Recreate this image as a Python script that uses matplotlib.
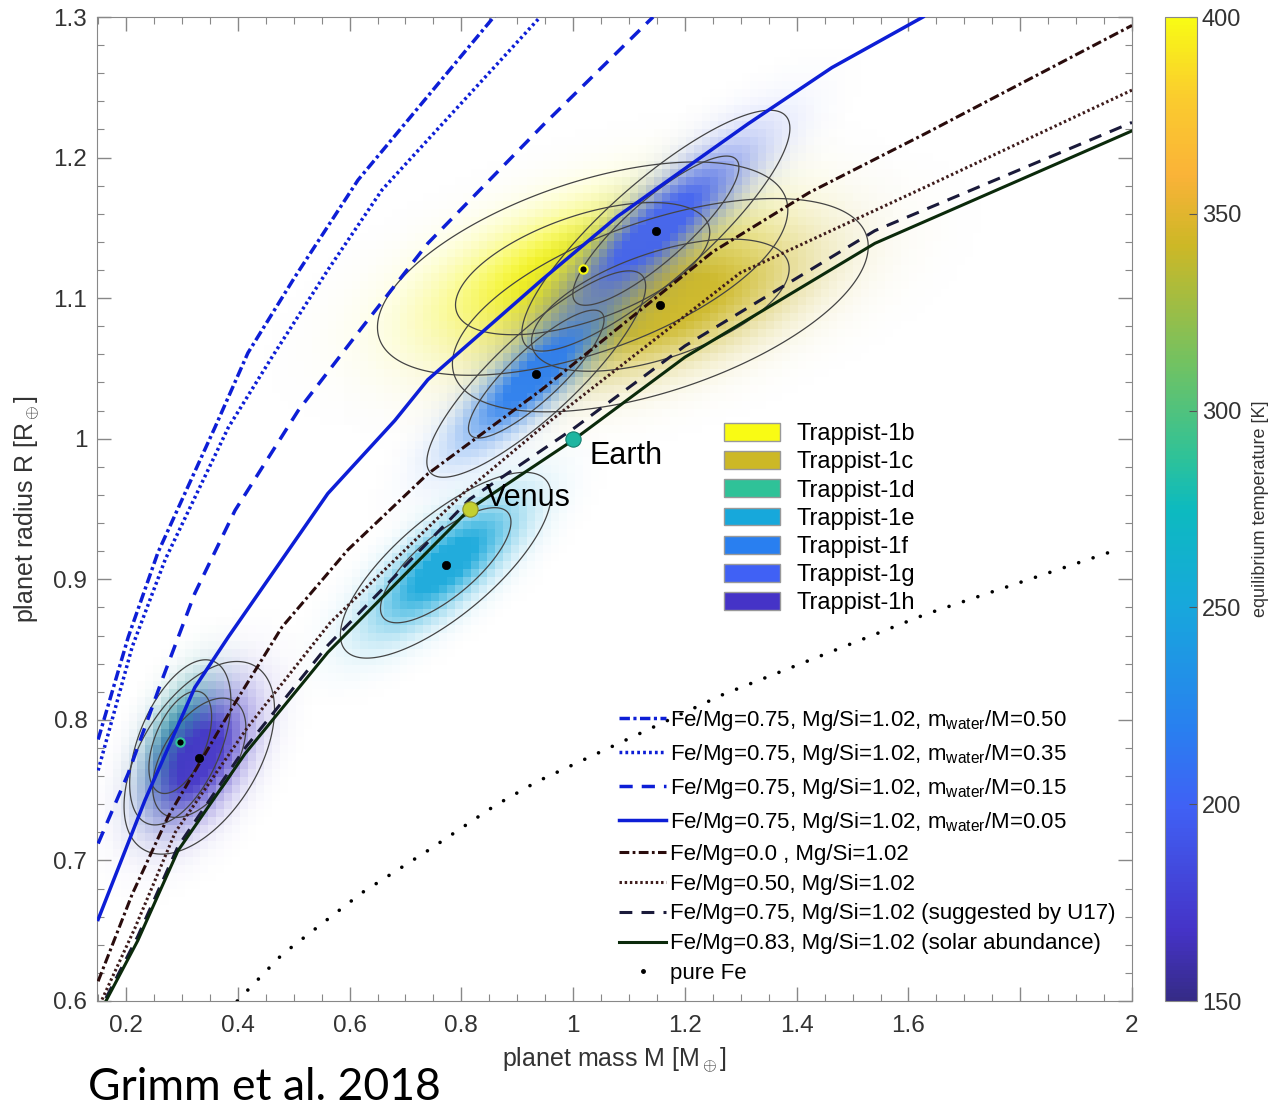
import numpy as np
import matplotlib
matplotlib.use('Agg')
import matplotlib.pyplot as plt
from matplotlib.colors import LinearSegmentedColormap, Normalize
from matplotlib.cm import ScalarMappable
from matplotlib.patches import Patch
from matplotlib.lines import Line2D
from matplotlib.ticker import MultipleLocator

plt.rcParams['font.family'] = ['Liberation Sans', 'DejaVu Sans']
plt.rcParams['mathtext.fontset'] = 'custom'
plt.rcParams['mathtext.rm'] = 'Liberation Sans'
plt.rcParams['mathtext.it'] = 'Liberation Sans:italic'

# --- planets (posterior centre, spread, correlation, temperature) ---
planet_names = ['Trappist-1b', 'Trappist-1c', 'Trappist-1d', 'Trappist-1e',
                'Trappist-1f', 'Trappist-1g', 'Trappist-1h']
planet_mass = [1.017, 1.156, 0.297, 0.772, 0.934, 1.148, 0.331]
planet_radius = [1.121, 1.095, 0.784, 0.910, 1.046, 1.148, 0.773]
mass_sigma = [0.150, 0.152, 0.037, 0.077, 0.080, 0.098, 0.055]
radius_sigma = [0.031, 0.031, 0.024, 0.027, 0.030, 0.035, 0.028]
mr_corr = [0.55, 0.55, 0.5, 0.75, 0.85, 0.85, 0.5]
planet_teq = [400, 342, 288, 251, 219, 199, 168]

# --- mass-radius relations ---
w50_m = [0.150, 0.204, 0.257, 0.359, 0.418, 0.502, 0.615, 0.860]
w50_r = [0.786, 0.859, 0.919, 1.008, 1.061, 1.115, 1.184, 1.301]
w35_m = [0.150, 0.211, 0.270, 0.383, 0.461, 0.561, 0.658, 0.941]
w35_r = [0.764, 0.852, 0.914, 1.008, 1.058, 1.120, 1.177, 1.300]
w15_m = [0.150, 0.204, 0.264, 0.323, 0.395, 0.508, 0.622, 0.740, 0.946, 1.143]
w15_r = [0.712, 0.762, 0.828, 0.890, 0.949, 1.020, 1.079, 1.139, 1.223, 1.300]
w05_m = [0.150, 0.234, 0.323, 0.383, 0.561, 0.681, 0.740, 0.944, 1.079, 1.313, 1.463, 1.626]
w05_r = [0.658, 0.743, 0.823, 0.859, 0.961, 1.013, 1.042, 1.113, 1.158, 1.224, 1.264, 1.300]
fe00_m = [0.150, 0.211, 0.275, 0.395, 0.479, 0.597, 0.740, 0.944, 1.250, 1.422, 1.630, 2.0]
fe00_r = [0.614, 0.676, 0.731, 0.812, 0.866, 0.921, 0.975, 1.035, 1.133, 1.175, 1.217, 1.294]
fe50_m = [0.157, 0.216, 0.288, 0.418, 0.565, 0.803, 0.944, 1.299, 1.630, 2.0]
fe50_r = [0.601, 0.652, 0.720, 0.795, 0.869, 0.961, 1.008, 1.118, 1.179, 1.248]
u17_m = [0.164, 0.221, 0.293, 0.413, 0.561, 0.815, 1.0, 1.2, 1.54, 2.0]
u17_r = [0.602, 0.646, 0.710, 0.780, 0.853, 0.957, 1.007, 1.066, 1.148, 1.225]
solar_m = [0.164, 0.221, 0.293, 0.413, 0.561, 0.815, 1.0, 1.2, 1.54, 2.0]
solar_r = [0.600, 0.643, 0.707, 0.776, 0.848, 0.950, 0.999, 1.058, 1.139, 1.219]
fe_m = [0.399, 0.479, 0.622, 0.740, 0.860, 0.935, 1.268, 1.630, 1.973]
fe_r = [0.600, 0.633, 0.677, 0.707, 0.739, 0.756, 0.818, 0.875, 0.921]

venus = (0.815, 0.950)
earth = (1.0, 1.0)

# parula-like colormap
parula = LinearSegmentedColormap.from_list('parula', [
    (0.000, (0.210, 0.170, 0.530)),
    (0.070, (0.270, 0.200, 0.780)),
    (0.196, (0.250, 0.380, 0.960)),
    (0.276, (0.160, 0.500, 0.940)),
    (0.404, (0.090, 0.660, 0.860)),
    (0.500, (0.050, 0.730, 0.750)),
    (0.552, (0.180, 0.760, 0.600)),
    (0.650, (0.450, 0.760, 0.380)),
    (0.768, (0.800, 0.720, 0.150)),
    (0.840, (0.980, 0.700, 0.220)),
    (0.920, (0.980, 0.800, 0.180)),
    (1.000, (0.976, 0.984, 0.080)),
])
norm = Normalize(150, 400)

fig = plt.figure(figsize=(12.72, 11.10), dpi=100)
ax = fig.add_axes([97 / 1272, 109 / 1110, 1035 / 1272, 984 / 1110])
xmin, xmax, ymin, ymax = 0.148, 2.0, 0.6, 1.3

# pixelated density blobs
me = np.linspace(xmin, xmax, 131)
re = np.linspace(ymin, ymax, 124)
MC, RC = np.meshgrid((me[:-1] + me[1:]) / 2, (re[:-1] + re[1:]) / 2)
MF, RF = np.meshgrid(np.linspace(xmin, xmax, 700), np.linspace(ymin, ymax, 600))


def mahal(M, R, i):
    dx = (M - planet_mass[i]) / mass_sigma[i]
    dy = (R - planet_radius[i]) / radius_sigma[i]
    rho = mr_corr[i]
    return (dx ** 2 - 2 * rho * dx * dy + dy ** 2) / (1 - rho ** 2)


for i in range(len(planet_names)):
    col = parula(norm(planet_teq[i]))
    q = mahal(MC, RC, i)
    rgba = np.zeros(MC.shape + (4,))
    rgba[..., :3] = col[:3]
    rgba[..., 3] = np.clip(1.15 * np.exp(-q / 2) ** 0.8, 0, 0.95)
    ax.imshow(rgba, extent=[xmin, xmax, ymin, ymax], origin='lower',
              aspect='auto', interpolation='nearest', zorder=1)

for i in range(len(planet_names)):
    ax.contour(MF, RF, mahal(MF, RF, i), levels=[2.30, 5.99],
               colors='#444444', linewidths=0.9, zorder=2)

blue = '#0d1ed6'
ax.plot(w50_m, w50_r, color=blue, lw=2.5, ls=(0, (3, 1, 0.9, 1)), zorder=3,
        label='Fe/Mg=0.75, Mg/Si=1.02, m$_{\\rm water}$/M=0.50')
ax.plot(w35_m, w35_r, color=blue, lw=2.5, ls=(0, (0.8, 0.9)), zorder=3,
        label='Fe/Mg=0.75, Mg/Si=1.02, m$_{\\rm water}$/M=0.35')
ax.plot(w15_m, w15_r, color=blue, lw=2.5, ls=(0, (3.8, 2.6)), zorder=3,
        label='Fe/Mg=0.75, Mg/Si=1.02, m$_{\\rm water}$/M=0.15')
ax.plot(w05_m, w05_r, color=blue, lw=2.5, zorder=3,
        label='Fe/Mg=0.75, Mg/Si=1.02, m$_{\\rm water}$/M=0.05')
ax.plot(fe00_m, fe00_r, color='#2a0c0c', lw=2.2, ls=(0, (3.2, 1.1, 0.9, 1.1)), zorder=3,
        label='Fe/Mg=0.0 , Mg/Si=1.02')
ax.plot(fe50_m, fe50_r, color='#3e1c1c', lw=2.2, ls=(0, (0.8, 0.9)), zorder=3,
        label='Fe/Mg=0.50, Mg/Si=1.02')
ax.plot(u17_m, u17_r, color='#1a1a3a', lw=2.2, ls=(0, (4.2, 3)), zorder=3,
        label='Fe/Mg=0.75, Mg/Si=1.02 (suggested by U17)')
ax.plot(solar_m, solar_r, color='#0b2a0b', lw=2.2, zorder=3,
        label='Fe/Mg=0.83, Mg/Si=1.02 (solar abundance)')
ax.plot(fe_m, fe_r, color='k', lw=2.6, ls=(0, (0.01, 4.2)),
        dash_capstyle='round', zorder=3)

# planet centres
for i in range(len(planet_names)):
    edge = 'k'
    if i == 0:
        edge = parula(norm(planet_teq[0]))
    if i == 2:
        edge = parula(norm(planet_teq[2]))
    ax.plot(planet_mass[i], planet_radius[i], 'o', ms=6, mfc='k', mec=edge,
            mew=1.5 if edge != 'k' else 0.5, zorder=6)

ax.plot(*venus, 'o', ms=11, mfc='#c4d030', mec='#8a9030', mew=0.8, zorder=6)
ax.plot(*earth, 'o', ms=11, mfc='#1fb5a0', mec='#15806f', mew=0.8, zorder=6)
ax.text(0.843, 0.958, 'Venus', fontsize=22, va='center', ha='left', zorder=7)
ax.text(1.03, 0.988, 'Earth', fontsize=22, va='center', ha='left', zorder=7)

ax.set_xlim(xmin, xmax)
ax.set_ylim(ymin, ymax)
ax.set_xticks([0.2, 0.4, 0.6, 0.8, 1.0, 1.2, 1.4, 1.6, 1.8, 2.0])
ax.set_xticklabels(['0.2', '0.4', '0.6', '0.8', '1', '1.2', '1.4', '1.6', '', '2'])
ax.set_yticks([0.6, 0.7, 0.8, 0.9, 1.0, 1.1, 1.2, 1.3])
ax.set_yticklabels(['0.6', '0.7', '0.8', '0.9', '1', '1.1', '1.2', '1.3'])
ax.xaxis.set_minor_locator(MultipleLocator(0.05))
ax.yaxis.set_minor_locator(MultipleLocator(0.02))
ax.tick_params(which='both', direction='in', top=True, right=True, color='#888888',
               labelcolor='#333333', labelsize=17.5)
ax.tick_params(which='major', length=10, width=1)
ax.tick_params(which='minor', length=5, width=0.8)
ax.tick_params(axis='x', which='major', pad=10)
ax.tick_params(axis='y', which='major', pad=7)
for s in ax.spines.values():
    s.set_color('#888888')
ax.set_xlabel('planet mass M [M$_\\oplus$]', fontsize=18, color='#333333', labelpad=6)
ax.set_ylabel('planet radius R [R$_\\oplus$]', fontsize=18, color='#333333', labelpad=8)

# legends
patches = [Patch(facecolor=parula(norm(t)), edgecolor='#999999', label=n)
           for n, t in zip(planet_names, planet_teq)]
leg1 = ax.legend(handles=patches, loc='upper left', bbox_to_anchor=(0.597, 0.597),
                 frameon=False, fontsize=17, handlelength=2.35, handleheight=0.78,
                 handletextpad=0.7, labelspacing=0.26, borderaxespad=0)
ax.add_artist(leg1)

handles, labels = ax.get_legend_handles_labels()
handles.append(Line2D([], [], ls='none', marker='.', ms=5, color='k'))
labels.append('pure Fe')
ax.legend(handles, labels, loc='lower left', bbox_to_anchor=(0.496, 0.008),
          frameon=False, fontsize=16, handlelength=2.1, handletextpad=0.2,
          labelspacing=0.4, borderaxespad=0)

# colorbar
cax = fig.add_axes([1165 / 1272, 109 / 1110, 32 / 1272, 984 / 1110])
cb = fig.colorbar(ScalarMappable(norm=norm, cmap=parula), cax=cax)
cb.set_ticks([150, 200, 250, 300, 350, 400])
cb.ax.tick_params(direction='in', length=6, color='#555555', labelsize=17,
                  labelcolor='#333333')
cb.outline.set_edgecolor('#888888')
cb.set_label('equilibrium temperature [K]', fontsize=13, color='#333333', labelpad=8)

fig.text(88 / 1272, 1 - 1088 / 1110, 'Grimm et al. 2018', fontsize=32,
         family=['Lato', 'DejaVu Sans'], va='center', ha='left')

fig.savefig('out.png', dpi=100)
